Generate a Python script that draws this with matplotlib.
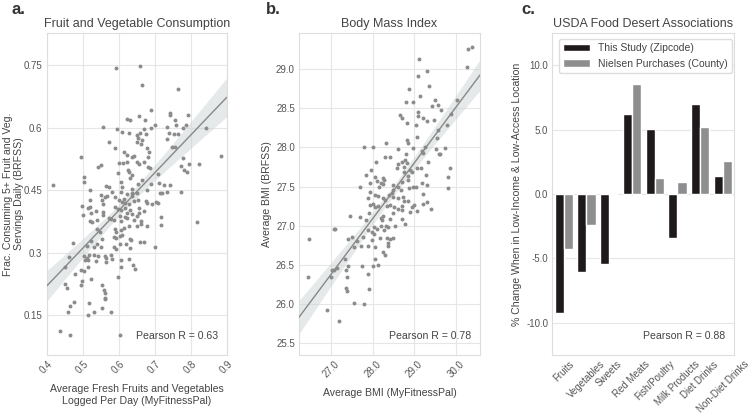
import numpy as np
import matplotlib
matplotlib.use("Agg")
import matplotlib.pyplot as plt
import seaborn as sns

# ---- panel a: fruit & veg (MyFitnessPal vs BRFSS) ----
fv_mfp = [0.593, 0.659, 0.666, 0.764, 0.689, 0.742, 0.744, 0.793, 0.656, 0.624, 0.631, 0.756, 0.674,
          0.556, 0.787, 0.844, 0.596, 0.670, 0.690, 0.702, 0.733, 0.758, 0.780, 0.609, 0.628, 0.650,
          0.659, 0.676, 0.740, 0.753, 0.764, 0.655, 0.664, 0.650, 0.662, 0.572, 0.733, 0.748, 0.756,
          0.591, 0.495, 0.678, 0.685, 0.615, 0.622, 0.636, 0.642, 0.600, 0.611, 0.622, 0.650, 0.657,
          0.670, 0.681, 0.778, 0.796, 0.822, 0.885, 0.550, 0.544, 0.681, 0.687, 0.772, 0.504, 0.505,
          0.598, 0.625, 0.628, 0.636, 0.710, 0.782, 0.789, 0.664, 0.631, 0.713, 0.418, 0.521, 0.564,
          0.574, 0.581, 0.636, 0.654, 0.689, 0.725, 0.744, 0.606, 0.610, 0.652, 0.678, 0.552, 0.567,
          0.591, 0.607, 0.624, 0.636, 0.715, 0.720, 0.733, 0.772, 0.637, 0.554, 0.562, 0.520, 0.601,
          0.608, 0.614, 0.618, 0.630, 0.642, 0.653, 0.676, 0.680, 0.694, 0.705, 0.710, 0.557, 0.538,
          0.515, 0.520, 0.589, 0.598, 0.607, 0.617, 0.624, 0.631, 0.636, 0.657, 0.500, 0.522, 0.556,
          0.557, 0.657, 0.670, 0.520, 0.526, 0.541, 0.572, 0.580, 0.588, 0.604, 0.607, 0.619, 0.624,
          0.642, 0.650, 0.661, 0.678, 0.717, 0.719, 0.817, 0.541, 0.548, 0.589, 0.594, 0.607, 0.616,
          0.630, 0.652, 0.663, 0.474, 0.523, 0.541, 0.554, 0.588, 0.594, 0.605, 0.609, 0.631, 0.634,
          0.660, 0.670, 0.701, 0.587, 0.594, 0.631, 0.511, 0.531, 0.550, 0.604, 0.620, 0.463, 0.504,
          0.511, 0.518, 0.532, 0.506, 0.514, 0.544, 0.561, 0.565, 0.579, 0.581, 0.538, 0.564, 0.606,
          0.629, 0.641, 0.645, 0.452, 0.496, 0.504, 0.515, 0.607, 0.597, 0.523, 0.480, 0.499, 0.495,
          0.451, 0.456, 0.554, 0.559, 0.563, 0.563, 0.561, 0.477, 0.464, 0.517, 0.554, 0.458, 0.532,
          0.578, 0.515, 0.438, 0.464, 0.605, 0.497]
fv_brfss = [0.743, 0.749, 0.702, 0.693, 0.643, 0.635, 0.630, 0.630, 0.628, 0.622, 0.618, 0.618, 0.619,
            0.603, 0.606, 0.599, 0.597, 0.597, 0.600, 0.606, 0.601, 0.607, 0.599, 0.590, 0.587, 0.583,
            0.587, 0.586, 0.587, 0.585, 0.586, 0.575, 0.571, 0.567, 0.562, 0.566, 0.573, 0.554, 0.554,
            0.551, 0.531, 0.551, 0.543, 0.543, 0.535, 0.531, 0.532, 0.515, 0.515, 0.519, 0.517, 0.513,
            0.517, 0.531, 0.527, 0.513, 0.512, 0.533, 0.510, 0.507, 0.507, 0.503, 0.509, 0.483, 0.471,
            0.491, 0.499, 0.493, 0.487, 0.489, 0.499, 0.495, 0.475, 0.479, 0.468, 0.463, 0.450, 0.461,
            0.457, 0.446, 0.453, 0.464, 0.464, 0.463, 0.463, 0.471, 0.459, 0.444, 0.451, 0.439, 0.436,
            0.433, 0.445, 0.440, 0.436, 0.444, 0.444, 0.445, 0.445, 0.444, 0.427, 0.435, 0.427, 0.427,
            0.423, 0.428, 0.419, 0.417, 0.424, 0.427, 0.424, 0.420, 0.417, 0.423, 0.419, 0.416, 0.401,
            0.407, 0.411, 0.411, 0.404, 0.403, 0.407, 0.395, 0.403, 0.392, 0.407, 0.391, 0.395, 0.397,
            0.391, 0.395, 0.401, 0.375, 0.373, 0.379, 0.383, 0.380, 0.379, 0.388, 0.376, 0.385, 0.383,
            0.379, 0.387, 0.377, 0.363, 0.385, 0.367, 0.373, 0.358, 0.350, 0.356, 0.349, 0.355, 0.359,
            0.364, 0.365, 0.370, 0.324, 0.329, 0.322, 0.334, 0.338, 0.336, 0.340, 0.342, 0.333, 0.331,
            0.326, 0.326, 0.313, 0.313, 0.310, 0.312, 0.317, 0.313, 0.313, 0.322, 0.321, 0.289, 0.292,
            0.288, 0.294, 0.295, 0.282, 0.282, 0.292, 0.292, 0.288, 0.294, 0.284, 0.281, 0.277, 0.282,
            0.284, 0.270, 0.260, 0.266, 0.258, 0.257, 0.266, 0.266, 0.242, 0.236, 0.249, 0.233, 0.222,
            0.224, 0.214, 0.222, 0.210, 0.202, 0.192, 0.189, 0.182, 0.172, 0.180, 0.166, 0.158, 0.158,
            0.158, 0.150, 0.111, 0.103, 0.101, 0.412]

# ---- panel b: BMI ----
bmi_mfp = [30.30, 30.38, 30.27, 29.12, 29.30, 29.08, 29.35, 28.88, 29.14, 28.97, 28.79, 29.50, 29.58,
           29.42, 30.02, 29.89, 29.64, 29.10, 29.08, 29.22, 29.30, 28.66, 28.70, 29.04, 28.82, 29.48,
           29.79, 29.56, 29.06, 29.55, 28.83, 28.85, 28.33, 28.62, 28.98, 29.26, 29.52, 29.73, 29.59,
           29.62, 28.79, 29.18, 29.22, 27.79, 28.02, 28.30, 28.42, 28.78, 28.82, 28.62, 28.70, 28.08,
           29.32, 28.58, 28.76, 29.07, 29.17, 28.90, 28.94, 28.75, 28.86, 29.28, 29.85, 29.82, 29.81,
           27.84, 27.95, 28.06, 28.26, 28.28, 27.94, 28.19, 28.24, 27.70, 28.16, 28.50, 28.70, 28.86,
           28.88, 28.98, 29.03, 29.19, 29.31, 28.67, 28.50, 28.46, 27.88, 28.06, 28.14, 28.24, 28.39,
           28.49, 28.62, 28.72, 29.22, 29.41, 29.31, 29.20, 28.75, 28.85, 29.00, 28.95, 29.06, 27.94,
           28.00, 28.13, 28.34, 28.42, 28.51, 28.62, 28.70, 28.70, 28.90, 28.48, 28.06, 27.90, 28.26,
           28.19, 28.22, 27.70, 27.46, 27.84, 28.42, 28.71, 28.78, 27.10, 27.07, 28.04, 28.10, 28.19,
           28.27, 28.32, 28.38, 28.54, 27.88, 28.04, 27.99, 26.48, 27.41, 27.51, 27.62, 27.76, 27.98,
           28.18, 28.34, 28.42, 28.49, 28.37, 28.38, 27.72, 27.88, 28.05, 27.54, 28.26, 28.30, 28.06,
           28.02, 28.14, 27.74, 27.41, 27.36, 27.15, 27.08, 27.02, 27.34, 27.38, 27.00, 26.45, 27.36,
           27.39, 27.90, 27.89, 27.54, 27.80, 26.91, 27.19, 28.10, 28.62, 28.30, 27.94]
bmi_brfss = [29.26, 29.28, 29.03, 29.13, 28.98, 28.91, 28.78, 28.74, 28.66, 28.58, 28.58, 28.61, 28.54,
             28.53, 28.61, 28.43, 28.48, 28.45, 28.40, 28.37, 28.34, 28.41, 28.37, 28.28, 28.31, 28.35,
             28.28, 28.22, 28.13, 28.12, 28.10, 28.05, 28.05, 27.98, 27.99, 28.01, 27.98, 27.99, 27.92,
             27.91, 27.92, 27.95, 27.93, 28.00, 28.00, 27.88, 27.88, 27.84, 27.80, 27.79, 27.81, 27.81,
             27.81, 27.74, 27.75, 27.74, 27.74, 27.71, 27.68, 27.69, 27.64, 27.65, 27.74, 27.62, 27.48,
             27.65, 27.71, 27.62, 27.61, 27.58, 27.54, 27.55, 27.53, 27.49, 27.50, 27.52, 27.56, 27.59,
             27.48, 27.50, 27.49, 27.54, 27.52, 27.45, 27.46, 27.42, 27.35, 27.39, 27.38, 27.36, 27.39,
             27.37, 27.35, 27.37, 27.41, 27.22, 27.30, 27.28, 27.32, 27.31, 27.27, 27.24, 27.19, 27.27,
             27.28, 27.25, 27.25, 27.26, 27.24, 27.22, 27.25, 27.20, 27.18, 27.16, 27.24, 27.16, 27.13,
             27.10, 27.07, 27.11, 27.12, 27.07, 27.08, 27.08, 27.02, 26.96, 26.96, 26.98, 26.96, 27.00,
             26.95, 27.00, 26.98, 27.00, 26.94, 26.90, 26.92, 26.83, 26.83, 26.86, 26.81, 26.86, 26.82,
             26.85, 26.85, 26.83, 26.84, 26.78, 26.74, 26.74, 26.74, 26.73, 26.73, 26.66, 26.63, 26.58,
             26.49, 26.50, 26.49, 26.48, 26.44, 26.46, 26.44, 26.44, 26.57, 26.34, 26.34, 26.34, 26.20,
             26.17, 26.19, 26.39, 26.01, 26.00, 25.93, 25.78, 27.57, 27.50, 27.33, 27.43]

# ---- panel c: food desert associations ----
food_groups = ["Fruits", "Vegetables", "Sweets", "Red Meats", "Fish/Poultry",
               "Milk Products", "Diet Drinks", "Non-Diet Drinks"]
this_study = [-9.2, -6.06, -5.44, 6.22, 5.08, -3.42, 7.02, 1.37]
nielsen = [-4.27, -2.41, 0.0, 8.52, 1.22, 0.93, 5.21, 2.59]

sns.set_style("whitegrid")
plt.rcParams['font.family'] = ['Liberation Sans', 'DejaVu Sans']
plt.rcParams['axes.unicode_minus'] = False
txt = '#444444'
plt.rcParams['text.color'] = txt
plt.rcParams['axes.labelcolor'] = txt
plt.rcParams['xtick.color'] = '#555555'
plt.rcParams['ytick.color'] = '#555555'

fig = plt.figure(figsize=(7.5, 4.16), dpi=100)

TITLE_FS = 9
LABEL_FS = 7.6
TICK_FS = 7
NOTE_FS = 7.6


def scatter_fit(ax, x, y, xlim):
    x = np.asarray(x)
    y = np.asarray(y)
    ax.scatter(x, y, s=8, color='#8c8c8c', linewidths=0, zorder=3)
    # least squares line with 95% band
    b, a = np.polyfit(x, y, 1)
    xs = np.linspace(xlim[0], xlim[1], 100)
    ys = a + b * xs
    n = len(x)
    resid = y - (a + b * x)
    s = np.sqrt(np.sum(resid ** 2) / (n - 2))
    se = s * np.sqrt(1.0 / n + (xs - x.mean()) ** 2 / np.sum((x - x.mean()) ** 2))
    ax.fill_between(xs, ys - 1.97 * se, ys + 1.97 * se, color='#c8d0d0', alpha=0.45, lw=0, zorder=2)
    ax.plot(xs, ys, color='#888888', lw=1, zorder=4)


# a.
ax1 = fig.add_axes([0.0622, 0.1466, 0.24, 0.774])
scatter_fit(ax1, fv_mfp, fv_brfss, (0.4, 0.9))
ax1.set_xlim(0.4, 0.9)
ax1.set_ylim(0.054, 0.828)
ax1.set_xticks([0.4, 0.5, 0.6, 0.7, 0.8, 0.9])
ax1.set_xticklabels(["0.4", "0.5", "0.6", "0.7", "0.8", "0.9"], rotation=45)
ax1.set_yticks([0.15, 0.3, 0.45, 0.6, 0.75])
ax1.set_yticklabels(["0.15", "0.3", "0.45", "0.6", "0.75"])
ax1.set_title("Fruit and Vegetable Consumption", fontsize=TITLE_FS, color=txt, pad=4)
ax1.set_xlabel("Average Fresh Fruits and Vegetables\nLogged Per Day (MyFitnessPal)", fontsize=LABEL_FS, labelpad=6)
ax1.set_ylabel("Frac. Consuming 5+ Fruit and Veg.\nServings Daily (BRFSS)", fontsize=LABEL_FS,
               linespacing=1.15)
ax1.yaxis.set_label_coords(-0.125, 0.5)
ax1.text(0.95, 0.06, "Pearson R = 0.63", transform=ax1.transAxes, ha='right', va='center', fontsize=NOTE_FS)

# b.
ax2 = fig.add_axes([0.3987, 0.1466, 0.2413, 0.774])
scatter_fit(ax2, bmi_mfp, bmi_brfss, (26.23, 30.58))
ax2.set_xlim(26.23, 30.58)
ax2.set_ylim(25.35, 29.46)
ax2.set_xticks([27, 28, 29, 30])
ax2.set_xticklabels(["27.0", "28.0", "29.0", "30.0"], rotation=45)
ax2.set_yticks([25.5, 26.0, 26.5, 27.0, 27.5, 28.0, 28.5, 29.0])
ax2.set_yticklabels(["25.5", "26.0", "26.5", "27.0", "27.5", "28.0", "28.5", "29.0"])
ax2.set_title("Body Mass Index", fontsize=TITLE_FS, color=txt, pad=4)
ax2.set_xlabel("Average BMI (MyFitnessPal)", fontsize=LABEL_FS, labelpad=6)
ax2.set_ylabel("Average BMI (BRFSS)", fontsize=LABEL_FS, labelpad=3)
ax2.text(0.95, 0.06, "Pearson R = 0.78", transform=ax2.transAxes, ha='right', va='center', fontsize=NOTE_FS)

# c.
ax3 = fig.add_axes([0.7364, 0.1466, 0.2427, 0.774])
pos = np.arange(len(food_groups))
ax3.bar(pos - 0.2, this_study, 0.4, color='#1e1a1c', label="This Study (Zipcode)", zorder=3)
ax3.bar(pos + 0.2, nielsen, 0.4, color='#8e8e90', label="Nielsen Purchases (County)", zorder=3)
ax3.set_xlim(-0.5, 7.5)
ax3.set_ylim(-12.5, 12.5)
ax3.set_xticks(pos)
ax3.set_xticklabels(food_groups, rotation=45)
ax3.set_yticks([-10, -5, 0, 5, 10])
ax3.set_yticklabels(["-10.0", "-5.0", "0.0", "5.0", "10.0"])
ax3.set_title("USDA Food Desert Associations", fontsize=TITLE_FS, color=txt, pad=4)
ax3.set_ylabel("% Change When in Low-Income & Low-Access Location", fontsize=LABEL_FS, labelpad=3)
ax3.legend(loc='upper left', fontsize=7.5, frameon=True, facecolor='white', framealpha=1,
           edgecolor='#dddddd', borderaxespad=0.6, handlelength=2.6)
ax3.text(0.95, 0.06, "Pearson R = 0.88", transform=ax3.transAxes, ha='right', va='center', fontsize=NOTE_FS)

for ax in (ax1, ax2, ax3):
    ax.tick_params(labelsize=TICK_FS, length=0, pad=3)
    for sp in ax.spines.values():
        sp.set_color('#dddddd')
    ax.grid(color='#e6e6e6', lw=0.8)
ax3.xaxis.grid(False)

fig.text(0.015, 0.978, "a.", fontsize=12, fontweight='bold', color='#333333', va='center')
fig.text(0.355, 0.978, "b.", fontsize=12, fontweight='bold', color='#333333', va='center')
fig.text(0.695, 0.978, "c.", fontsize=12, fontweight='bold', color='#333333', va='center')

fig.savefig("out.png", dpi=100)
